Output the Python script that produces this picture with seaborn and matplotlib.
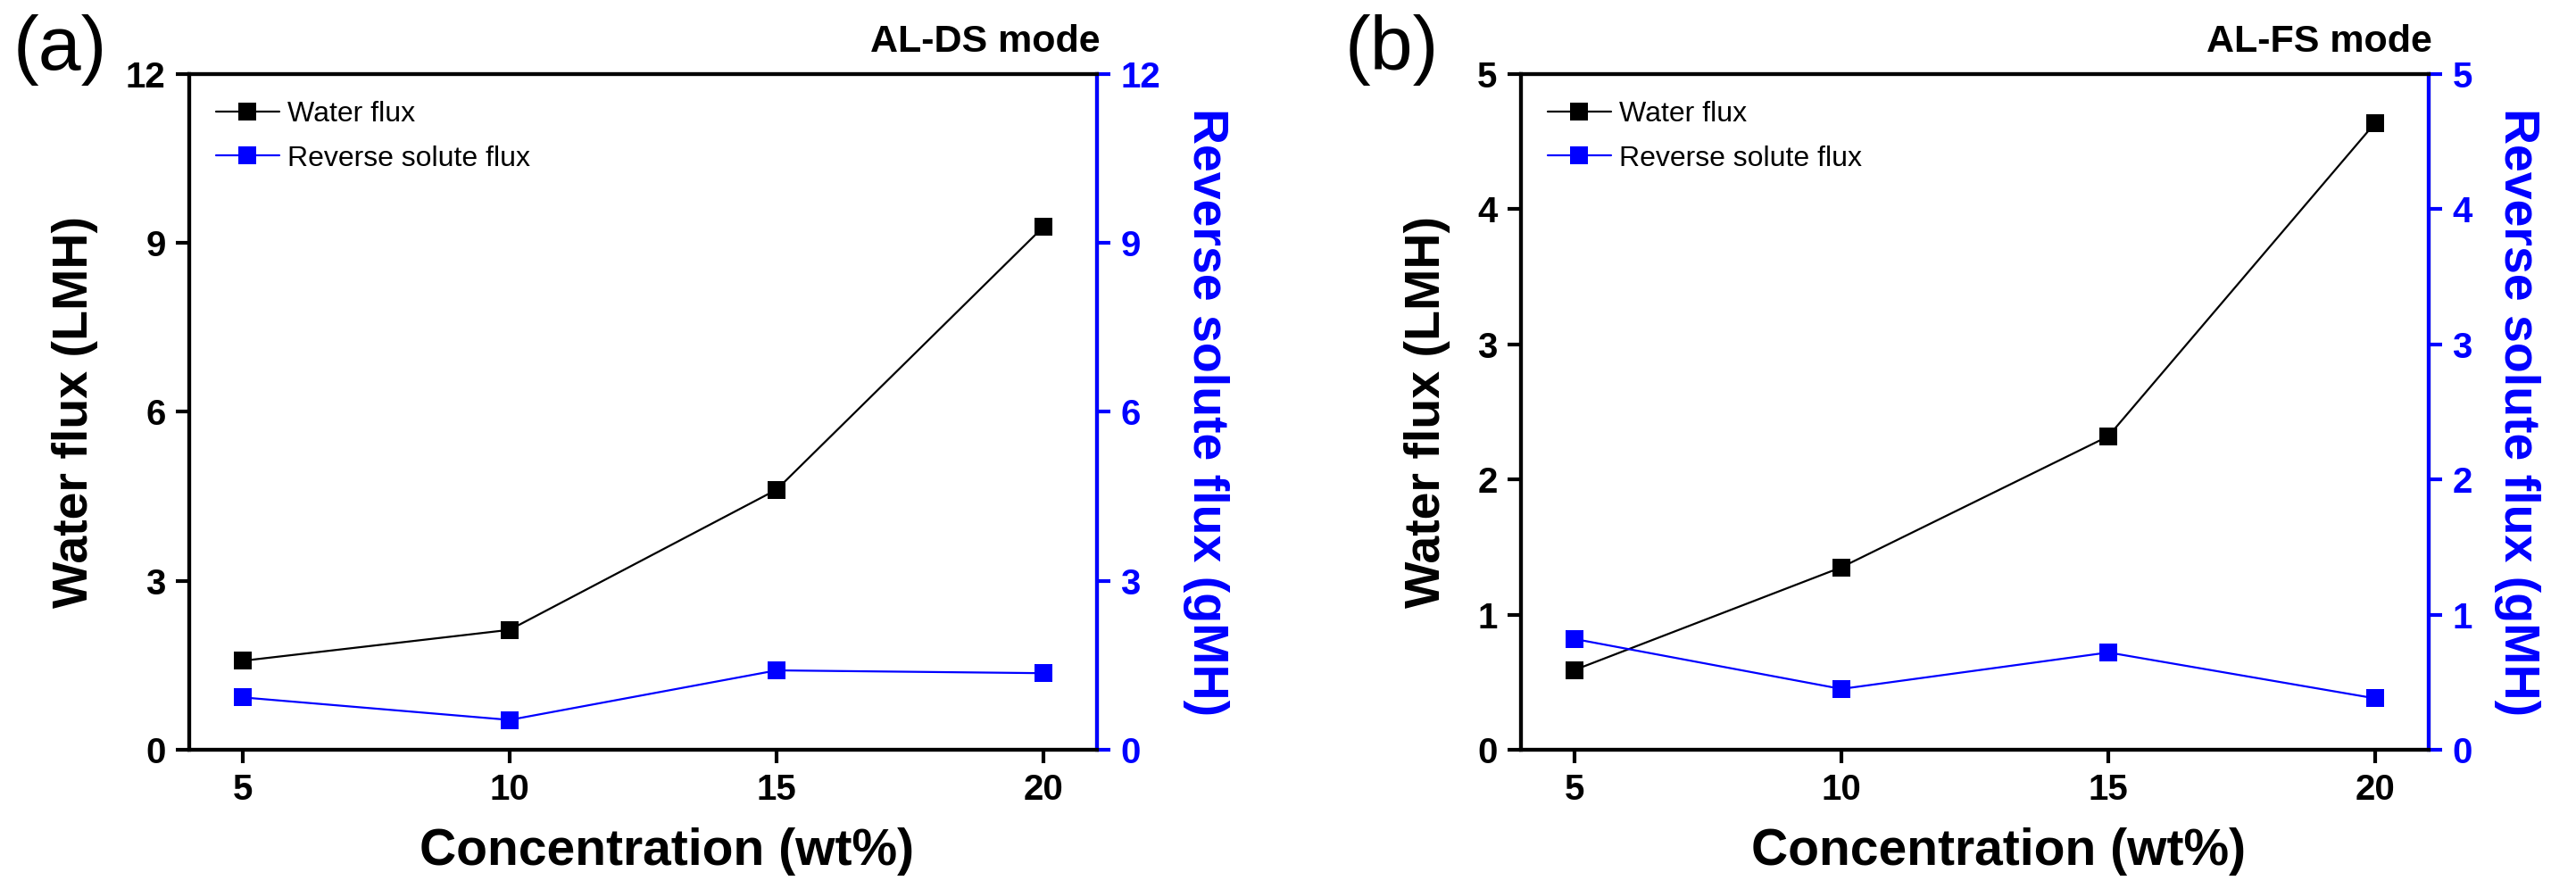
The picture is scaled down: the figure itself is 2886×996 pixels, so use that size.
import matplotlib
matplotlib.use('Agg')
import matplotlib.pyplot as plt
import seaborn as sns
import pandas as pd

# Data
concentration = [5, 10, 15, 20]

# (a) AL-DS mode
water_flux_ds = [1.58, 2.13, 4.62, 9.29]
rsf_ds = [0.93, 0.53, 1.41, 1.36]

# (b) AL-FS mode
water_flux_fs = [0.59, 1.35, 2.32, 4.64]
rsf_fs = [0.82, 0.45, 0.72, 0.38]

panels = [
    {"tag": "(a)", "mode": "AL-DS mode", "water": water_flux_ds, "rsf": rsf_ds,
     "ymax": 12, "yticks": [0, 3, 6, 9, 12], "left": 212},
    {"tag": "(b)", "mode": "AL-FS mode", "water": water_flux_fs, "rsf": rsf_fs,
     "ymax": 5, "yticks": [0, 1, 2, 3, 4, 5], "left": 1704},
]

BLUE = "#0000ff"
W, H = 2886, 996

sns.set_style("ticks")
plt.rcParams['font.family'] = ['Liberation Sans', 'DejaVu Sans']
for key in ["text.color", "axes.labelcolor", "xtick.color", "ytick.color", "axes.edgecolor"]:
    plt.rcParams[key] = "black"

fig = plt.figure(figsize=(W / 100, H / 100), dpi=100)

for p in panels:
    ax = fig.add_axes([p["left"] / W, (H - 840) / H, 1017 / W, 757 / H])
    ax2 = ax.twinx()

    df = pd.DataFrame({"Concentration": concentration,
                       "Water": p["water"], "RSF": p["rsf"]})

    sns.lineplot(data=df, x="Concentration", y="Water", ax=ax, color="black",
                 marker="s", markersize=14, linewidth=1.6, markeredgewidth=0,
                 legend=False)
    sns.lineplot(data=df, x="Concentration", y="RSF", ax=ax2, color=BLUE,
                 marker="s", markersize=14, linewidth=1.6, markeredgewidth=0,
                 legend=False)

    for a in (ax, ax2):
        a.set_xlim(4, 21)
        a.set_ylim(0, p["ymax"])
        a.set_yticks(p["yticks"])
        for s in a.spines.values():
            s.set_linewidth(3)
    ax.set_xticks(concentration)

    ax.tick_params(axis="both", direction="out", length=11, width=3,
                   labelsize=29, pad=8)
    ax2.tick_params(axis="y", direction="out", length=11, width=3,
                    labelsize=29, pad=8, colors=BLUE)
    ax2.spines["right"].set_color(BLUE)
    for lab in ax.get_xticklabels() + ax.get_yticklabels() + ax2.get_yticklabels():
        lab.set_fontweight("bold")

    ax.set_xlabel("Concentration (wt%)", fontsize=41, fontweight="bold", labelpad=20)
    ax.xaxis.set_label_coords(0.526, -0.115)
    ax.set_ylabel("Water flux (LMH)", fontsize=40, fontweight="bold", labelpad=22)
    ax2.set_ylabel("Reverse solute flux (gMH)", fontsize=40, fontweight="bold",
                   color=BLUE, rotation=270, labelpad=55)

    # legend built from both axes
    h1 = ax.get_lines()[0]
    h2 = ax2.get_lines()[0]
    ax2.legend([h1, h2], ["Water flux", "Reverse solute flux"], loc="upper left",
               frameon=False, fontsize=23, handlelength=2.2, handletextpad=0.3,
               borderaxespad=0.65, labelspacing=0.6, borderpad=0.3)

    ax.text(1.004, 1.033, p["mode"], transform=ax.transAxes, ha="right", va="baseline",
            fontsize=31, fontweight="bold")
    ax.text(-0.194, 1.036, p["tag"], transform=ax.transAxes, ha="left", va="center",
            fontsize=62)

fig.savefig("out.png", dpi=100)
